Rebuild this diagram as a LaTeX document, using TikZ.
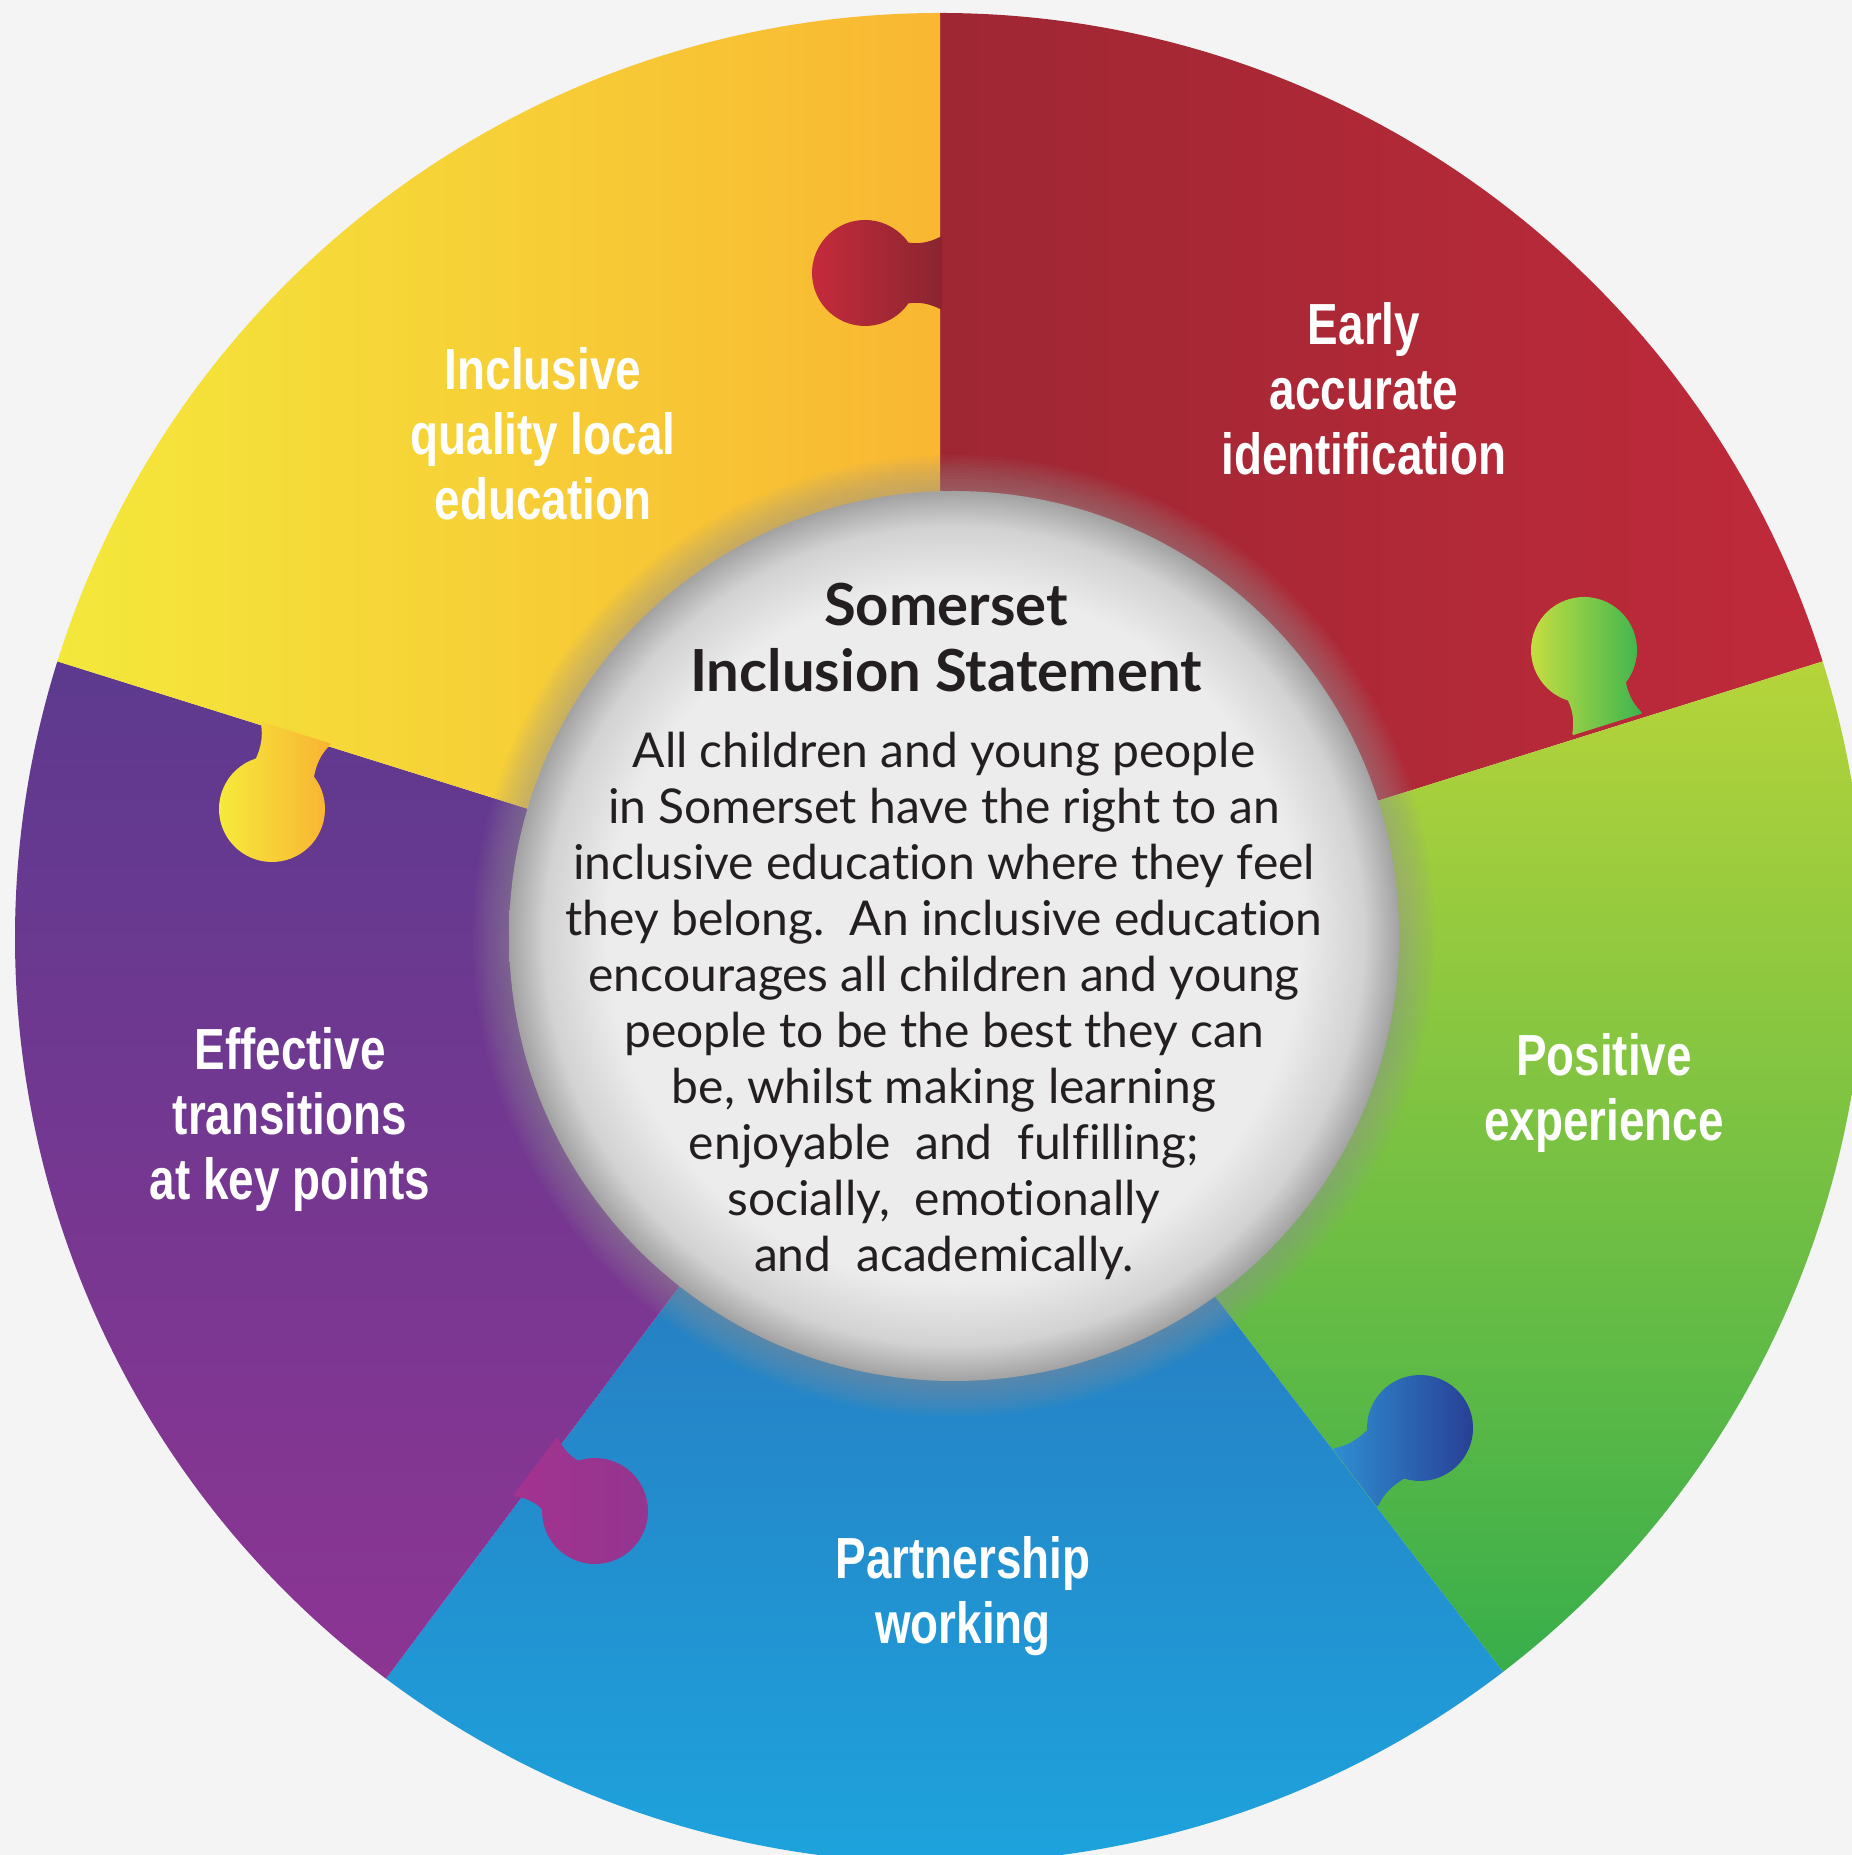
\documentclass[tikz,border=0pt]{standalone}
\usepackage{fontspec}
\newfontfamily\labelfont[FakeStretch=0.79]{Liberation Sans}
\newfontfamily\titlefont[Ligatures=NoCommon]{Lato}
\newfontfamily\bodyfont[Ligatures=NoCommon]{Lato}
\definecolor{bgc}{HTML}{F4F4F4}
\definecolor{yelL}{HTML}{F4E83B}
\definecolor{yelR}{HTML}{F9B732}
\definecolor{redL}{HTML}{9E2733}
\definecolor{redR}{HTML}{C02A3A}
\definecolor{grnT}{HTML}{B6D43A}
\definecolor{grnB}{HTML}{38AE4B}
\definecolor{bluT}{HTML}{2B69B3}
\definecolor{bluB}{HTML}{1DA7E0}
\definecolor{purT}{HTML}{5D3A8F}
\definecolor{purB}{HTML}{8C3593}
\definecolor{tabRedL}{HTML}{C82B3C}
\definecolor{tabRedR}{HTML}{8A2530}
\definecolor{tabGrnL}{HTML}{CDE040}
\definecolor{tabGrnR}{HTML}{3DB54F}
\definecolor{tabBluL}{HTML}{2F8ED2}
\definecolor{tabBluR}{HTML}{283F95}
\definecolor{tabPurL}{HTML}{A3338F}
\definecolor{tabPurR}{HTML}{93358F}
\definecolor{tabYelL}{HTML}{F6EC3B}
\definecolor{tabYelR}{HTML}{F9B233}
\definecolor{discc}{HTML}{ECECEC}
\definecolor{discm}{HTML}{D2D2D2}
\definecolor{disce}{HTML}{A2A2A2}
\definecolor{halo}{HTML}{9A9A9A}
\definecolor{inktext}{HTML}{231F20}
\pgfdeclareradialshading{discshade}{\pgfpointorigin}{color(0bp)=(discc); color(19.5bp)=(discc); color(23bp)=(discm); color(25bp)=(disce); color(50bp)=(disce)}
\newcommand\puzzletab[6]{%
  \begin{scope}[shift={(#1,#2)}, rotate=#3]
    \shade[left color=#5, right color=#6]
      (-#4-2,36) -- (-#4,36) .. controls (-#4+12,30) and (-#4+22,29) .. (145:53)
      arc[start angle=145, end angle=-145, radius=53]
      .. controls (-#4+22,-29) and (-#4+12,-30) .. (-#4,-36) -- (-#4-2,-36) -- cycle;
  \end{scope}}
\begin{document}
\begin{tikzpicture}[x=1pt, y=1pt,
  seglabel/.style={text=white, align=center, inner sep=0pt, anchor=north,
    font=\labelfont\bfseries\fontsize{58}{65}\selectfont},
  titletext/.style={text=inktext, align=center, inner sep=0pt, anchor=north,
    font=\titlefont\bfseries\fontsize{58}{66}\selectfont},
  bodytext/.style={text=inktext, align=center, inner sep=0pt, anchor=north,
    font=\bodyfont\fontsize{48}{56}\selectfont}]
\useasboundingbox (0,0) rectangle (1852,1855);
\fill[bgc] (0,0) rectangle (1852,1855);
\begin{scope}
\clip (0,0) rectangle (1852,1855);
\coordinate (C) at (940,917);
% segments
\shade[left color=redL, right color=redR] (C) -- ++(90:925) arc[start angle=90, end angle=17.4, radius=925] -- cycle;
\shade[top color=grnT, bottom color=grnB] (C) -- ++(17.4:925) arc[start angle=17.4, end angle=-52.5, radius=925] -- cycle;
\shade[top color=bluT, bottom color=bluB] (C) -- ++(-52.5:925) arc[start angle=-52.5, end angle=-126.8, radius=925] -- cycle;
\shade[top color=purT, bottom color=purB] (C) -- ++(-126.8:925) arc[start angle=-126.8, end angle=-197.4, radius=925] -- cycle;
\shade[left color=yelL, right color=yelR] (C) -- ++(162.6:925) arc[start angle=162.6, end angle=90, radius=925] -- cycle;
% puzzle tabs
\puzzletab{865}{1582}{180}{75}{tabRedL}{tabRedR}
\puzzletab{1584}{1205}{107.4}{76}{tabGrnL}{tabGrnR}
\puzzletab{1420}{427}{37.5}{80}{tabBluL}{tabBluR}
\puzzletab{595}{344}{-36.8}{73}{tabPurL}{tabPurR}
\puzzletab{272}{1046}{252.6}{78}{tabYelL}{tabYelR}
\end{scope}
% centre disc with soft halo
\coordinate (I) at (954,919);
\foreach \k in {12,...,1}
  \fill[halo, opacity=0.05] (I) circle[radius=445+3*\k];
\shade[shading=discshade] (I) circle[radius=445];
% segment labels
\node[seglabel] (lblYel) at (543,1508) {Inclusive\\quality local\\education};
\node[seglabel] (lblRed) at (1364,1553) {Early\\accurate\\identification};
\node[seglabel] (lblGrn) at (1604,822) {Positive\\experience};
\node[seglabel] (lblBlu) at (963,319) {Partnership\\working};
\node[seglabel] (lblPur) at (290,828) {Effective\\transitions\\at key points};
% centre text
\node[titletext] (title) at (946,1272) {Somerset\\Inclusion Statement};
\node[bodytext] (body) at (944,1123) {All children and young people\\
in Somerset have the right to an\\
inclusive education where they feel\\
they belong.\ \ An inclusive education\\
encourages all children and young\\
people to be the best they can\\
be, whilst making learning\\
enjoyable\ \ and\ \ fulfilling;\\
socially,\ \ emotionally\\
and\ \ academically.};
\end{tikzpicture}
\end{document}
